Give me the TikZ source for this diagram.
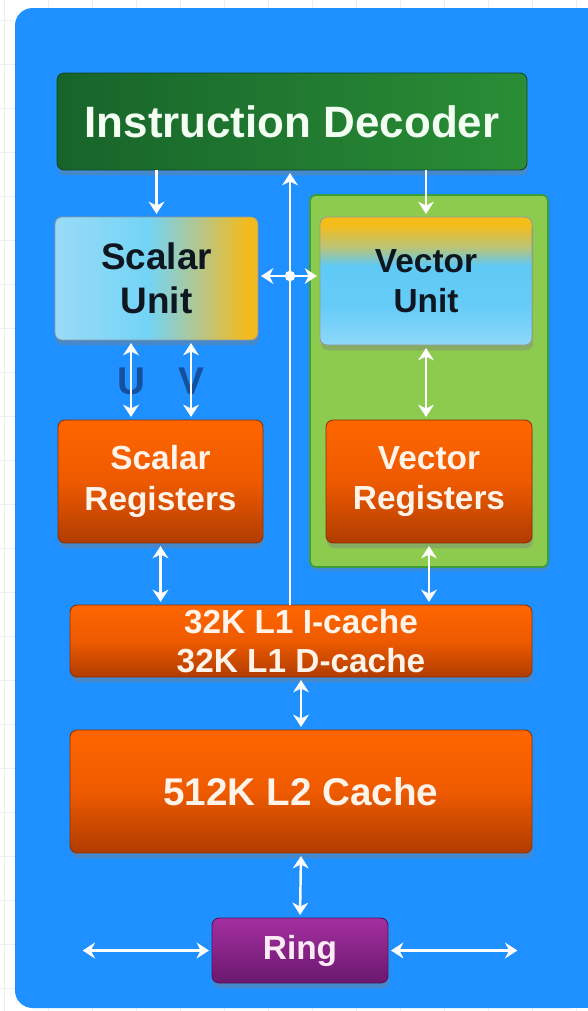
\documentclass[tikz,border=0pt]{standalone}
\usepackage{fontspec}
\setmainfont{Liberation Sans}
\usetikzlibrary{arrows.meta,shadows}

\definecolor{panelblue}{HTML}{1E90FF}
\definecolor{gridline}{HTML}{E8EFF6}
\definecolor{decdark}{HTML}{17642A}
\definecolor{declight}{HTML}{2A8E36}
\definecolor{vecgreen}{HTML}{8DCB4F}
\definecolor{vecedge}{HTML}{3C9E3A}
\definecolor{orangetop}{HTML}{FF6600}
\definecolor{orangemid}{HTML}{EE5A00}
\definecolor{orangebot}{HTML}{B03C00}
\definecolor{ringtop}{HTML}{A42FA0}
\definecolor{ringbot}{HTML}{6A186E}
\definecolor{uvblue}{HTML}{15509C}
\definecolor{inktext}{HTML}{0E1620}
\definecolor{palewhite}{HTML}{FFF3EA}

\pgfdeclarehorizontalshading{scalarshade}{100bp}{rgb(0bp)=(0.60,0.86,0.97); rgb(25bp)=(0.60,0.86,0.97); rgb(48bp)=(0.45,0.83,0.96); rgb(60bp)=(0.70,0.78,0.56); rgb(72bp)=(0.95,0.73,0.12); rgb(100bp)=(0.95,0.73,0.12)}
\pgfdeclareverticalshading{vectorshade}{100bp}{rgb(0bp)=(0.56,0.85,0.98); rgb(25bp)=(0.56,0.85,0.98); rgb(40bp)=(0.40,0.80,0.97); rgb(56bp)=(0.37,0.79,0.96); rgb(63bp)=(0.72,0.77,0.48); rgb(72bp)=(0.96,0.74,0.10); rgb(100bp)=(0.96,0.74,0.10)}

\newcommand*{\duplex}[2]{%
\draw[wire, {Stealth[length=7pt,width=9pt]}-{Stealth[length=7pt,width=9pt]}] (#1) to (#2);}

\tikzset{
  wire/.style={white, line width=1.4pt, shorten <=1.5pt, shorten >=1.5pt},
  block/.style={rounded corners=4pt, align=center, inner sep=0pt, draw=#1, line width=0.5pt,
    drop shadow={shadow xshift=0.6pt, shadow yshift=-3pt, opacity=0.4}},
  block/.default=black!40,
  orangebox/.style={block=orangebot!80!black, top color=orangetop, bottom color=orangebot,
    middle color=orangemid, text=palewhite},
}

\begin{document}
\begin{tikzpicture}[x=0.02cm, y=-0.02cm]
\useasboundingbox (0,0) rectangle (588,1011);
\fill[white] (0,0) rectangle (588,1011);
\foreach \gx in {4,48,...,588} \draw[gridline, line width=0.5pt] (\gx,0) -- (\gx,1011);
\foreach \gy in {20,64,...,1011} \draw[gridline, line width=0.5pt] (0,\gy) -- (588,\gy);

\fill[panelblue, rounded corners=10pt] (15,8) rectangle (588,1008);
\fill[panelblue] (560,8) rectangle (588,1008);

\node[fill=vecgreen, draw=vecedge, line width=1pt, rounded corners=3pt, minimum width=4.76cm,
  minimum height=7.44cm, drop shadow={shadow xshift=0.6pt, shadow yshift=-2.5pt, opacity=0.3}] (vpanel) at (429,381) {};

\node[block=decdark!70!black, left color=decdark, right color=declight, text=white!95!green,
  minimum width=9.4cm, minimum height=1.94cm, font=\fontsize{25}{29}\selectfont\bfseries] (dec) at (292,121.5) {Instruction Decoder};

\node[block, shade, shading=scalarshade, text=inktext, minimum width=4.06cm, minimum height=2.46cm,
  font=\fontsize{21}{25}\selectfont\bfseries] (su) at (156.5,278.5) {Scalar\\Unit};
\node[block, shade, shading=vectorshade, text=inktext, minimum width=4.24cm, minimum height=2.56cm,
  font=\fontsize{19}{23}\selectfont\bfseries] (vu) at (426,281) {Vector\\Unit};

\node[orangebox, minimum width=4.1cm, minimum height=2.46cm, font=\fontsize{19}{23}\selectfont\bfseries] (sr) at (160.5,481.5) {Scalar\\Registers};
\node[orangebox, minimum width=4.12cm, minimum height=2.46cm, font=\fontsize{19}{23}\selectfont\bfseries] (vr) at (429,481.5) {Vector\\Registers};
\node[orangebox, minimum width=9.24cm, minimum height=1.44cm, font=\fontsize{19}{22}\selectfont\bfseries] (l1) at (301,641) {32K L1 I-cache\\32K L1 D-cache};
\node[orangebox, minimum width=9.24cm, minimum height=2.46cm, font=\fontsize{22}{26}\selectfont\bfseries] (l2) at (301,791.5) {512K L2 Cache};
\node[block=ringbot!80!black, top color=ringtop, bottom color=ringbot, text=white!92!magenta,
  minimum width=3.52cm, minimum height=1.3cm, font=\fontsize{19}{23}\selectfont\bfseries] (ring) at (300,950.5) {Ring};

\node[text=uvblue, font=\fontsize{22}{26}\selectfont\bfseries] (upipe) at (131,381) {U};
\node[text=uvblue, font=\fontsize{22}{26}\selectfont\bfseries] (vpipe) at (191,381) {V};

\coordinate (bus) at (290,276);
\coordinate (westlink) at (80,950.5);
\coordinate (eastlink) at (520,950.5);

\draw[wire, shorten <=0pt, -{Stealth[length=7pt,width=9pt]}] (dec.south -| su) -- (su.north);
\draw[wire, shorten <=0pt, -{Stealth[length=7pt,width=9pt]}] (dec.south -| vu) -- (vu.north);
\draw[wire, line width=1.2pt, shorten <=0pt, -{Stealth[length=7pt,width=9pt]}] (l1.north -| bus) -- (dec.south -| bus);

\duplex{su.east |- bus}{vu.west |- bus}
\fill[white] (bus) circle[radius=3pt];

\duplex{su.south -| upipe}{sr.north -| upipe}
\duplex{su.south -| vpipe}{sr.north -| vpipe}
\duplex{vu.south}{vu.south |- vr.north}
\duplex{sr.south}{sr.south |- l1.north}
\duplex{vr.south}{vr.south |- l1.north}
\duplex{l1.south}{l2.north}
\duplex{l2.south}{ring.north}
\duplex{ring.west}{westlink}
\duplex{ring.east}{eastlink}
\end{tikzpicture}
\end{document}
